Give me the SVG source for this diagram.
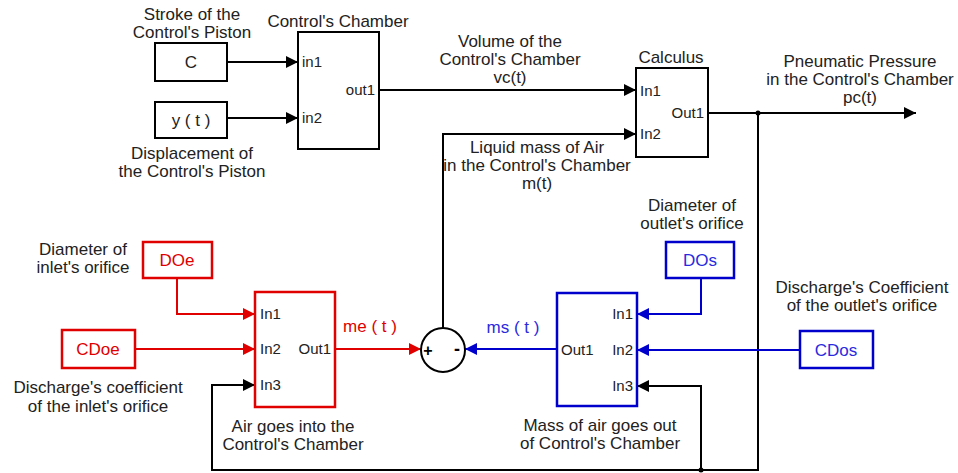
<svg xmlns="http://www.w3.org/2000/svg" width="958" height="473" viewBox="0 0 958 473">
<style>
text{font-family:"Liberation Sans",Arial,sans-serif;font-size:17px;fill:#222}
.c{text-anchor:middle}
.e{text-anchor:end}
.p{font-size:15px}
.blk{fill:#fff;stroke:#000;stroke-width:2}
.rb{fill:#fff;stroke:#e00000;stroke-width:2.5}
.bb{fill:#fff;stroke:#0000cc;stroke-width:2.5}
.k{fill:none;stroke:#000;stroke-width:2}
.r{fill:none;stroke:#e00000;stroke-width:2}
.b{fill:none;stroke:#0000cc;stroke-width:2}
.rt{fill:#e00000}
.bt{fill:#2a2ae0}
</style>
<defs>
<marker id="ak" viewBox="0 0 10 10" refX="10" refY="5" markerWidth="12" markerHeight="12" markerUnits="userSpaceOnUse" orient="auto"><path d="M0,0L10,5L0,10z" fill="#000"/></marker>
<marker id="ar" viewBox="0 0 10 10" refX="10" refY="5" markerWidth="12" markerHeight="12" markerUnits="userSpaceOnUse" orient="auto"><path d="M0,0L10,5L0,10z" fill="#e00000"/></marker>
<marker id="ab" viewBox="0 0 10 10" refX="10" refY="5" markerWidth="12" markerHeight="12" markerUnits="userSpaceOnUse" orient="auto"><path d="M0,0L10,5L0,10z" fill="#0000cc"/></marker>
</defs>

<g id="connectors">
<path class="k" d="M227,62H298" marker-end="url(#ak)"/>
<path class="k" d="M227,118H298" marker-end="url(#ak)"/>
<path class="k" d="M379,90H636" marker-end="url(#ak)"/>
<path class="k" d="M443,328V134H636" marker-end="url(#ak)"/>
<path class="k" d="M708,113H916" marker-end="url(#ak)"/>
<path class="k" d="M758,113V470H212V385H255" marker-end="url(#ak)"/>
<path class="k" d="M701,470V386H637" marker-end="url(#ak)"/>
<circle cx="758" cy="113" r="2.5" fill="#000"/>
<circle cx="701" cy="470" r="2.5" fill="#000"/>
<path class="r" d="M177,278V314H255" marker-end="url(#ar)"/>
<path class="r" d="M135,349H255" marker-end="url(#ar)"/>
<path class="r" d="M335,349H421" marker-end="url(#ar)"/>
<path class="b" d="M701,278V314H637" marker-end="url(#ab)"/>
<path class="b" d="M800,350H637" marker-end="url(#ab)"/>
<path class="b" d="M557,349H465" marker-end="url(#ab)"/>
</g>

<g id="stroke">
<rect class="blk" x="155" y="43" width="72" height="38"/>
<text class="c" x="191" y="68">C</text>
<text class="c" x="192" y="20">Stroke of the</text>
<text class="c" x="192" y="38">Control's Piston</text>
</g>

<g id="displacement">
<rect class="blk" x="155" y="102" width="72" height="36"/>
<text class="c" x="191" y="126">y ( t )</text>
<text class="c" x="192" y="159">Displacement of</text>
<text class="c" x="192" y="177">the Control's Piston</text>
</g>

<g id="control-chamber">
<rect class="blk" x="298" y="32" width="81" height="117"/>
<text class="c" x="338" y="27">Control's Chamber</text>
<text class="p" x="302" y="67">in1</text>
<text class="p" x="302" y="123">in2</text>
<text class="p e" x="375" y="95">out1</text>
</g>

<g id="volume-label">
<text class="c" x="510" y="47">Volume of the</text>
<text class="c" x="510" y="65">Control's Chamber</text>
<text class="c" x="510" y="83">vc(t)</text>
</g>

<g id="calculus">
<rect class="blk" x="636" y="68" width="72" height="89"/>
<text class="c" x="671" y="63">Calculus</text>
<text class="p" x="640" y="96">In1</text>
<text class="p" x="640" y="139">In2</text>
<text class="p e" x="704" y="118">Out1</text>
</g>

<g id="pressure-label">
<text class="c" x="860" y="67">Pneumatic Pressure</text>
<text class="c" x="860" y="85">in the Control's Chamber</text>
<text class="c" x="860" y="103">pc(t)</text>
</g>

<g id="mass-label">
<text class="c" x="537" y="153">Liquid mass of Air</text>
<text class="c" x="537" y="171">in the Control's Chamber</text>
<text class="c" x="537" y="189">m(t)</text>
</g>

<g id="doe">
<rect class="rb" x="143" y="242" width="69" height="36"/>
<text class="c rt" x="177" y="266">DOe</text>
<text class="c" x="83" y="255">Diameter of</text>
<text class="c" x="83" y="273">inlet's orifice</text>
</g>

<g id="cdoe">
<rect class="rb" x="62" y="330" width="73" height="38"/>
<text class="c rt" x="98" y="355">CDoe</text>
<text class="c" x="98" y="393">Discharge's coefficient</text>
<text class="c" x="98" y="412">of the inlet's orifice</text>
</g>

<g id="air-in">
<rect class="rb" x="255" y="292" width="80" height="115"/>
<text class="p" x="260" y="319">In1</text>
<text class="p" x="260" y="354">In2</text>
<text class="p" x="260" y="390">In3</text>
<text class="p e" x="331" y="354">Out1</text>
<text class="c" x="293" y="432">Air goes into the</text>
<text class="c" x="293" y="450">Control's Chamber</text>
</g>

<g id="me-label"><text class="c rt" x="370" y="332">me ( t )</text></g>
<g id="ms-label"><text class="c bt" x="513" y="333">ms ( t )</text></g>

<g id="sum">
<circle cx="443" cy="350" r="22" fill="#fff" stroke="#000" stroke-width="2"/>
<text x="428" y="356" class="c" style="font-size:16px;font-weight:bold;fill:#000">+</text>
<text x="457" y="355" class="c" style="font-size:18px;font-weight:bold;fill:#000">-</text>
</g>

<g id="dos">
<rect class="bb" x="666" y="242" width="68" height="36"/>
<text class="c bt" x="700" y="266">DOs</text>
<text class="c" x="692" y="211">Diameter of</text>
<text class="c" x="692" y="229">outlet's orifice</text>
</g>

<g id="cdos">
<rect class="bb" x="800" y="331" width="73" height="37"/>
<text class="c bt" x="836" y="356">CDos</text>
<text class="c" x="862" y="293">Discharge's Coefficient</text>
<text class="c" x="862" y="311">of the outlet's orifice</text>
</g>

<g id="air-out">
<rect class="bb" x="557" y="293" width="80" height="113"/>
<text class="p e" x="633" y="319">In1</text>
<text class="p e" x="633" y="355">In2</text>
<text class="p e" x="633" y="391">In3</text>
<text class="p" x="561" y="355">Out1</text>
<text class="c" x="600" y="431">Mass of air goes out</text>
<text class="c" x="600" y="449">of Control's Chamber</text>
</g>
</svg>
